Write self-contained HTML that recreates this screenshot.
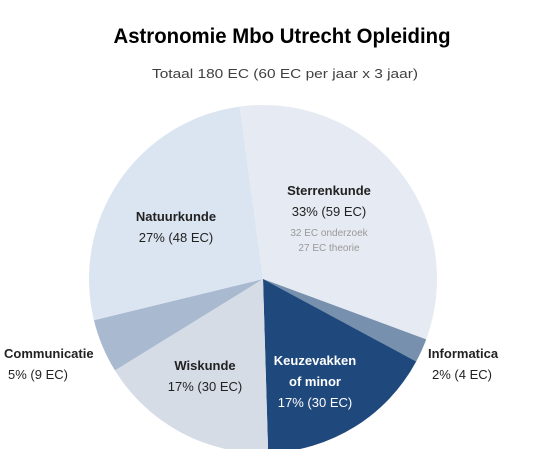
<!DOCTYPE html>
<html><head><meta charset="utf-8"><style>
html,body{margin:0;padding:0;background:#fff;width:558px;height:449px;overflow:hidden}
svg{display:block;font-family:"Liberation Sans",sans-serif}
</style></head><body>
<svg id="chart" width="558" height="449">
<text x="282" y="43" text-anchor="middle" font-size="21" font-weight="bold" textLength="337" lengthAdjust="spacingAndGlyphs" fill="#000">Astronomie  Mbo Utrecht Opleiding</text>
<text x="285" y="78" text-anchor="middle" font-size="12.5" fill="#404040" textLength="266" lengthAdjust="spacingAndGlyphs">Totaal 180 EC (60 EC per jaar x 3 jaar)</text>
<g id="slices"></g>
<g id="labels"></g>
</svg>
<script>
const categories = ["Sterrenkunde","Informatica","Keuzevakken of minor","Wiskunde","Communicatie","Natuurkunde"];
const values = [59,4,30,30,9,48];
const percents = ["33%","2%","17%","17%","5%","27%"];
const colors = ["#e6eaf2","#7790ae","#1f497d","#d5dce6","#a9bad0","#dbe5f1"];
const cx=263, cy=279, r=174, start=-7.7;
const total = values.reduce((a,b)=>a+b,0);
const ns="http://www.w3.org/2000/svg";
function pt(deg,rad){const a=(deg-90)*Math.PI/180;return [cx+rad*Math.cos(a),cy+rad*Math.sin(a)];}
const g=document.getElementById('slices');
let ang=start;
const mids=[];
values.forEach((v,i)=>{
  const sweep=v/total*360;
  const [x1,y1]=pt(ang,r),[x2,y2]=pt(ang+sweep,r);
  const p=document.createElementNS(ns,'path');
  p.setAttribute('d',`M${cx},${cy}L${x1},${y1}A${r},${r} 0 ${sweep>180?1:0} 1 ${x2},${y2}Z`);
  p.setAttribute('fill',colors[i]);
  
  
  g.appendChild(p);
  mids.push(ang+sweep/2);
  ang+=sweep;
});
const L=document.getElementById('labels');
function txt(x,y,s,opts){
  const t=document.createElementNS(ns,'text');
  t.setAttribute('x',x);t.setAttribute('y',y);
  t.setAttribute('text-anchor',opts.anchor||'middle');
  t.setAttribute('font-size',opts.size||13);
  if(opts.bold)t.setAttribute('font-weight','bold');
  t.setAttribute('fill',opts.fill||'#222');
  t.textContent=s;
  
  
  L.appendChild(t);
}
// label text built from arrays
function lab(i){return percents[i]+" ("+values[i]+" EC)";}
txt(329,195,categories[0],{bold:true,name:'label-sterrenkunde'});
txt(329,216,lab(0),{name:'value-sterrenkunde'});
txt(329,236,"32 EC onderzoek",{size:10,fill:'#999',name:'note-onderzoek'});
txt(329,251,"27 EC theorie",{size:10,fill:'#999',name:'note-theorie'});
txt(176,221,categories[5],{bold:true,name:'label-natuurkunde'});
txt(176,242,lab(5),{name:'value-natuurkunde'});
txt(205,370,categories[3],{bold:true,name:'label-wiskunde'});
txt(205,391,lab(3),{name:'value-wiskunde'});
txt(315,365,"Keuzevakken",{bold:true,fill:'#fff',name:'label-keuzevakken'});
txt(315,386,"of minor",{bold:true,fill:'#fff',name:'label-keuzevakken-2'});
txt(315,407,lab(2),{fill:'#fff',name:'value-keuzevakken'});
txt(428,358,categories[1],{bold:true,anchor:'start',name:'label-informatica'});
txt(432,379,lab(1),{anchor:'start',name:'value-informatica'});
txt(4,358,categories[4],{bold:true,anchor:'start',name:'label-communicatie'});
txt(8,379,lab(4),{anchor:'start',name:'value-communicatie'});
</script>
</body></html>
